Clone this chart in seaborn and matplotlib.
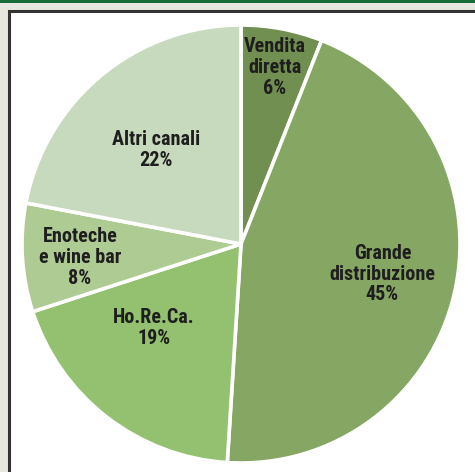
import matplotlib
matplotlib.use("Agg")
import matplotlib.pyplot as plt
import seaborn as sns
import numpy as np
from matplotlib.patches import Rectangle

categories = ["Vendita\ndiretta", "Grande\ndistribuzione", "Ho.Re.Ca.", "Enoteche\ne wine bar", "Altri canali"]
values = [6, 45, 19, 8, 22]
colors = ["#718f50", "#86a763", "#93c170", "#aecb93", "#c8dabd"]
label_radius = [0.82, 0.66, 0.553, 0.738, 0.58]
label_angle_shift = [0, 0.6, -8.2, 1.2, 2.4]

sns.set_theme(style="white")
plt.rcParams['font.family'] = ['Roboto Condensed', 'DejaVu Sans']

W, H = 475, 472
fig = plt.figure(figsize=(W / 100, H / 100), dpi=100)
fig.patch.set_facecolor("#e7e7df")
# white panel with dark border
fig.patches.append(Rectangle((10 / W, 0), 1, (H - 12) / H, transform=fig.transFigure,
                             facecolor="white", edgecolor="none", zorder=-3))
fig.patches.append(Rectangle((8.5 / W, -0.1), 1, (H - 10.5) / H + 0.1, transform=fig.transFigure,
                             facecolor="none", edgecolor="#333333", linewidth=2.2, zorder=-2))
# top green bar
fig.patches.append(Rectangle((0, (H - 3) / H), 1, 3 / H, transform=fig.transFigure,
                             facecolor="#176b3b", edgecolor="none", zorder=-1))

cx, cy, r = 241, 472 - 244, 219
ax = fig.add_axes([(cx - r) / W, (cy - r) / H, 2 * r / W, 2 * r / H])
ax.set_zorder(5)
ax.patch.set_alpha(0)
wedges, _ = ax.pie(values, colors=colors, startangle=90, counterclock=False,
                   wedgeprops=dict(edgecolor="white", linewidth=2.6))
ax.set_xlim(-1, 1)
ax.set_ylim(-1, 1)
ax.set_axis_off()

for w, lab, val, rr, da in zip(wedges, categories, values, label_radius, label_angle_shift):
    ang = np.deg2rad((w.theta1 + w.theta2) / 2 + da)
    ax.text(rr * np.cos(ang), rr * np.sin(ang), f"{lab}\n{val}%", ha="center", va="center",
            fontsize=14.5, fontweight="bold", color="#1e1e1e", linespacing=1.12)

fig.savefig("out.png", dpi=100, facecolor=fig.get_facecolor())
